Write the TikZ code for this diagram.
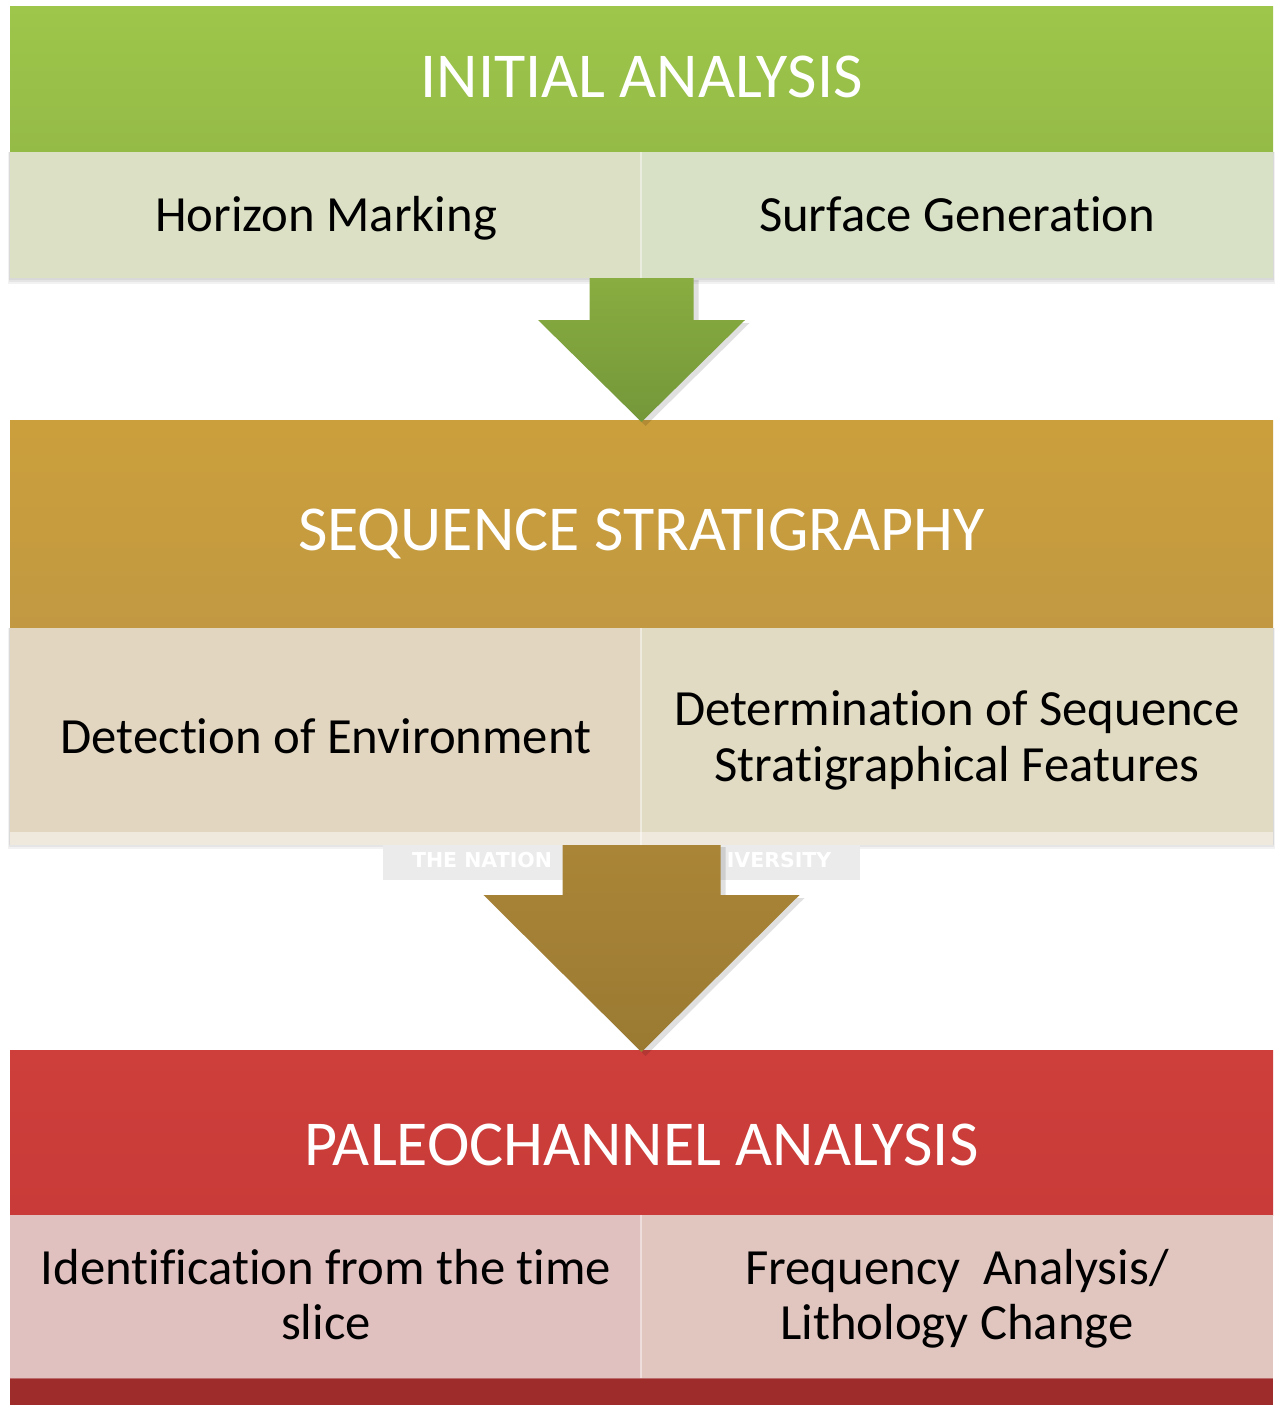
\documentclass[tikz,border=0pt]{standalone}
\usepackage{fontspec}
\setmainfont{Carlito}[Ligatures=NoCommon]
\newfontfamily\markfont{DejaVu Sans}
\usetikzlibrary{calc}
\definecolor{grnTop}{HTML}{9DC64A}
\definecolor{grnBot}{HTML}{95BB47}
\definecolor{grnSubL}{HTML}{DCE1C5}
\definecolor{grnSubR}{HTML}{D8E0C6}
\definecolor{grnArrTop}{HTML}{89AD40}
\definecolor{grnArrBot}{HTML}{74973A}
\definecolor{gldTop}{HTML}{CB9F3C}
\definecolor{gldBot}{HTML}{C29942}
\definecolor{gldSubL}{HTML}{E2D6C1}
\definecolor{gldSubR}{HTML}{E2DBC3}
\definecolor{gldArrTop}{HTML}{AA8537}
\definecolor{gldArrBot}{HTML}{9A7A32}
\definecolor{redTop}{HTML}{CE3F3B}
\definecolor{redBot}{HTML}{C83B38}
\definecolor{redSubL}{HTML}{E1C1C0}
\definecolor{redSubR}{HTML}{E1C6C0}
\definecolor{redBar}{HTML}{9E2C2B}
\definecolor{markGray}{HTML}{EBEBEB}
\tikzset{
  band/.style={draw=none, inner sep=0pt, outer sep=0pt, anchor=north west},
  title/.style={text=white, font=\fontsize{64}{70}\selectfont, anchor=base, inner sep=0pt},
  item/.style={text=black, font=\fontsize{50.7}{56}\selectfont, anchor=base, inner sep=0pt, align=center},
  marktext/.style={text=white, font=\markfont\bfseries\fontsize{20.5}{24}\selectfont, anchor=base, inner sep=0pt},
  softshadow/.style={fill=black, opacity=0.05},
  divider/.style={draw=white, opacity=0.45, line width=1.2pt}
}
\begin{document}
\begin{tikzpicture}[x=1pt,y=-1pt]
\useasboundingbox (0,0) rectangle (1275,1405);
\fill[white] (0,0) rectangle (1275,1405);
% soft shadows under the three panels
\foreach \d in {2,4,6}{
  \fill[softshadow] (10-\d/3,152) rectangle (1273+\d/3,278+\d);
  \fill[softshadow] (10-\d/3,628) rectangle (1273+\d/3,843+\d);
}
% panel 1: initial analysis
\node[band, minimum width=1263pt, minimum height=145pt,
      top color=grnTop, bottom color=grnBot] (h1) at (10,7) {};
\node[band, minimum width=631pt, minimum height=126pt, fill=grnSubL] (h1l) at (10,152) {};
\node[band, minimum width=632pt, minimum height=126pt, fill=grnSubR] (h1r) at (641,152) {};
\draw[divider] (h1r.north west) -- (h1r.south west);
\node[title] (t1) at (641.5,97) {INITIAL ANALYSIS};
\node[item] (a1) at (326,231) {Horizon Marking};
\node[item] (b1) at (957,231) {Surface Generation};
% panel 2: sequence stratigraphy
\node[band, minimum width=1263pt, minimum height=208pt,
      top color=gldTop, bottom color=gldBot] (h2) at (10,420) {};
\node[band, minimum width=631pt, minimum height=204pt, fill=gldSubL] (h2l) at (10,628) {};
\node[band, minimum width=632pt, minimum height=204pt, fill=gldSubR] (h2r) at (641,628) {};
\fill[gldSubL!55!white] (10,832) rectangle (1273,845);
\draw[divider] (h2r.north west) -- (641,845);
\node[title] (t2) at (641.5,550) {SEQUENCE STRATIGRAPHY};
\node[item] (a2) at (326,753) {Detection of Environment};
\node[item] (b2) at (957,725) {Determination of Sequence};
\node[item] (c2) at (957,781) {Stratigraphical Features};
% faint label strip behind the second arrow
\node[band, minimum width=477pt, minimum height=35pt, fill=markGray] (wm) at (383,845) {};
\node[marktext] (wm1) at (482,867) {THE NATION};
\node[marktext] (wm2) at (779,867) {IVERSITY};
% panel 3: paleochannel analysis
\node[band, minimum width=1263pt, minimum height=165pt,
      top color=redTop, bottom color=redBot] (h3) at (10,1050) {};
\node[band, minimum width=631pt, minimum height=163pt, fill=redSubL] (h3l) at (10,1215) {};
\node[band, minimum width=632pt, minimum height=163pt, fill=redSubR] (h3r) at (641,1215) {};
\draw[divider] (h3r.north west) -- (h3r.south west);
\node[band, minimum width=1263pt, minimum height=27pt, fill=redBar] (h4) at (10,1378) {};
\draw[white, opacity=0.3, line width=1pt] (h4.north west) -- (h4.north east);
\node[title] (t3) at (641.5,1165) {PALEOCHANNEL ANALYSIS};
\node[item] (a3) at (326,1284) {Identification from the time};
\node[item] (c3) at (326,1339) {slice};
\node[item] (b3) at (957,1284) {Frequency~~Analysis/};
\node[item] (d3) at (957,1339) {Lithology Change};
% block arrows between the panels
\coordinate (s1) at (641.5,278);
\coordinate (e1) at (641.5,422);
\coordinate (s2) at (641.5,845);
\coordinate (e2) at (641.5,1052);
\fill[black, opacity=0.12]
  ($(s1)+(-48,2)$) -- ($(s1)+(57,2)$) -- ($(s1)+(57,45)$) -- ($(s1)+(108,45)$)
  -- ($(e1)+(4,4)$) -- ($(s1)+(-99,45)$) -- ($(s1)+(-48,45)$) -- cycle;
\shade[top color=grnArrTop, bottom color=grnArrBot]
  ($(s1)+(-52,0)$) -- ($(s1)+(52,0)$) -- ($(s1)+(52,42)$) -- ($(s1)+(103.5,42)$)
  -- (e1) -- ($(s1)+(-103.5,42)$) -- ($(s1)+(-52,42)$) -- cycle;
\fill[black, opacity=0.12]
  ($(s2)+(-75,2)$) -- ($(s2)+(84,2)$) -- ($(s2)+(84,53)$) -- ($(s2)+(163,53)$)
  -- ($(e2)+(4,4)$) -- ($(s2)+(-154,53)$) -- ($(s2)+(-75,53)$) -- cycle;
\shade[top color=gldArrTop, bottom color=gldArrBot]
  ($(s2)+(-79,0)$) -- ($(s2)+(79,0)$) -- ($(s2)+(79,50)$) -- ($(s2)+(158,50)$)
  -- (e2) -- ($(s2)+(-158,50)$) -- ($(s2)+(-79,50)$) -- cycle;
\end{tikzpicture}
\end{document}
